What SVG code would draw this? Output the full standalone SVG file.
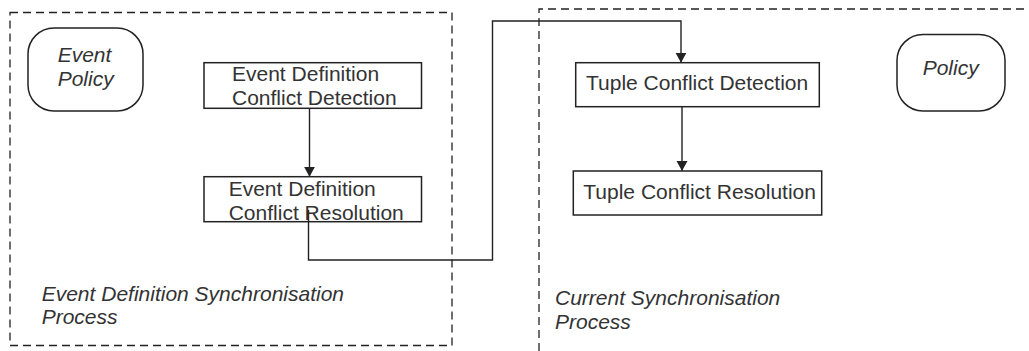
<svg xmlns="http://www.w3.org/2000/svg" width="1029" height="351" viewBox="0 0 1029 351">
<style>
.bg{fill:#ffffff}
.frame{fill:none;stroke:#222;stroke-width:1.3;stroke-dasharray:8 5}
.box{fill:#fff;stroke:#222;stroke-width:1.5}
.pol{fill:#fff;stroke:#222;stroke-width:1.5}
.t{font-family:"Liberation Sans",Arial,sans-serif;font-size:21px;fill:#333}
.i{font-style:italic}
.c{fill:none;stroke:#222;stroke-width:1.4}
</style>
<defs>
<marker id="ah" viewBox="0 0 10 12" refX="10" refY="6" markerWidth="10" markerHeight="12" markerUnits="userSpaceOnUse" orient="auto">
<path d="M0 0.5 L10 6 L0 11.5 Z" fill="#222"/>
</marker>
</defs>
<rect class="bg" x="0" y="0" width="1029" height="351"/>
<g id="frame-event-def">
<rect class="frame" x="10" y="12.5" width="442" height="333"/>
<text class="t i" x="41.7" y="300.7">Event Definition Synchronisation</text>
<text class="t i" x="41.7" y="324">Process</text>
</g>
<g id="frame-current">
<path class="frame" d="M539 351 V9 H1029"/>
<text class="t i" x="555" y="305">Current Synchronisation</text>
<text class="t i" x="555" y="329">Process</text>
</g>
<g id="event-policy">
<rect class="pol" x="28" y="28" width="115" height="83" rx="26" ry="26"/>
<text class="t i" x="57.7" y="62.3">Event</text>
<text class="t i" x="57.7" y="86">Policy</text>
</g>
<g id="policy">
<rect class="pol" x="897" y="34.5" width="108" height="76.5" rx="26" ry="26"/>
<text class="t i" x="922.7" y="75">Policy</text>
</g>
<g id="ed-detection">
<rect class="box" x="204" y="62.7" width="217.5" height="45.6"/>
<text class="t" x="232" y="81">Event Definition</text>
<text class="t" x="232" y="105">Conflict Detection</text>
</g>
<g id="ed-resolution">
<rect class="box" x="204" y="176.7" width="217.5" height="45"/>
<text class="t" x="228.7" y="196">Event Definition</text>
<text class="t" x="228.7" y="220">Conflict Resolution</text>
</g>
<g id="tuple-detection">
<rect class="box" x="575.7" y="62.7" width="243.6" height="44"/>
<text class="t" x="586" y="90">Tuple Conflict Detection</text>
</g>
<g id="tuple-resolution">
<rect class="box" x="573.3" y="171" width="248.4" height="44"/>
<text class="t" x="583.3" y="199">Tuple Conflict Resolution</text>
</g>
<g id="connectors">
<path class="c" d="M309.5 108.3 V176.7" marker-end="url(#ah)"/>
<path class="c" d="M308.5 210 V260 H492.5 V21 H681 V62.7" marker-end="url(#ah)"/>
<path class="c" d="M682 106.7 V171" marker-end="url(#ah)"/>
</g>
</svg>
